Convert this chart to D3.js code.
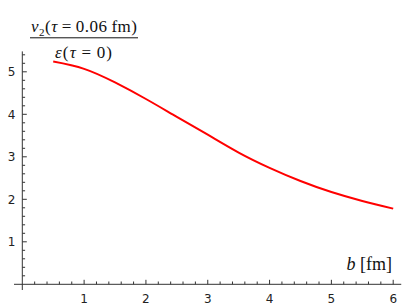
<!DOCTYPE html>
<html><head><meta charset="utf-8">
<script src="https://cdn.jsdelivr.net/npm/d3@7"></script>
<style>body{margin:0;background:#fff}svg{display:block}</style>
</head><body>
<svg id="c" width="409" height="307"></svg>
<script>
const bValues = [0.5, 1.0, 1.5, 2.0, 2.5, 3.0, 3.5, 4.0, 4.5, 5.0, 5.5, 6.0];
const ratioValues = [5.24, 5.07, 4.75, 4.36, 3.94, 3.52, 3.10, 2.74, 2.43, 2.17, 1.96, 1.78];
const xTicks = [1, 2, 3, 4, 5, 6];
const yTicks = [1, 2, 3, 4, 5];

const svg = d3.select("#c");
const x = d3.scaleLinear().domain([0, 6]).range([22.3, 393.2]);
const y = d3.scaleLinear().domain([0, 5]).range([284.3, 71.8]);
const axisColor = "#333";

const xMinor = d3.range(1, 31).map(i => i / 5);
const yMinor = d3.range(1, 28).map(i => i / 5);

svg.append("line").attr("x1", 14).attr("x2", x(6.13)).attr("y1", y(0)).attr("y2", y(0))
  .attr("stroke", axisColor).attr("stroke-width", 1);
svg.append("line").attr("x1", x(0)).attr("x2", x(0)).attr("y1", y(5.48)).attr("y2", 290)
  .attr("stroke", axisColor).attr("stroke-width", 1);

svg.selectAll(".xt").data(xMinor).join("line")
  .attr("x1", d => x(d)).attr("x2", d => x(d))
  .attr("y1", y(0)).attr("y2", d => y(0) - (Math.abs(d - Math.round(d)) < 1e-6 ? 4.5 : 2.8))
  .attr("stroke", axisColor).attr("stroke-width", 1);
svg.selectAll(".yt").data(yMinor).join("line")
  .attr("y1", d => y(d)).attr("y2", d => y(d))
  .attr("x1", x(0)).attr("x2", d => x(0) + (Math.abs(d - Math.round(d)) < 1e-6 ? 4.5 : 2.8))
  .attr("stroke", axisColor).attr("stroke-width", 1);

svg.selectAll(".xl").data(xTicks).join("text")
  .attr("x", d => x(d)).attr("y", 302.5).attr("text-anchor", "middle")
  .attr("font-family", "DejaVu Sans").attr("font-size", 12).attr("fill", "#222").text(d => d);
svg.selectAll(".yl").data(yTicks).join("text")
  .attr("x", 15.5).attr("y", d => y(d) + 4.3).attr("text-anchor", "end")
  .attr("font-family", "DejaVu Sans").attr("font-size", 12).attr("fill", "#222").text(d => d);

const pts = bValues.map((b, i) => [b, ratioValues[i]]);
svg.append("path").datum(pts)
  .attr("d", d3.line().x(d => x(d[0])).y(d => y(d[1])).curve(d3.curveNatural))
  .attr("fill", "none").attr("stroke", "#ff0000").attr("stroke-width", 2);

const serif = "'Liberation Serif', 'Times New Roman', serif";
const num = svg.append("text").attr("x", 31).attr("y", 32)
  .attr("font-family", serif).attr("font-size", 17).attr("fill", "#111");
num.append("tspan").attr("font-style", "italic").text("v");
num.append("tspan").attr("font-size", 11).attr("dy", 3.5).text("2");
num.append("tspan").attr("dy", -3.5).text("(");
num.append("tspan").attr("font-style", "italic").text("τ");
num.append("tspan").text("\u2009=\u20090.06\u2009fm)");
num.attr("textLength", 106).attr("lengthAdjust", "spacing");
svg.append("line").attr("x1", 30).attr("x2", 138).attr("y1", 37.8).attr("y2", 37.8)
  .attr("stroke", "#111").attr("stroke-width", 1);
const den = svg.append("text").attr("x", 55).attr("y", 58)
  .attr("font-family", serif).attr("font-size", 17).attr("fill", "#111");
den.append("tspan").attr("font-style", "italic").text("ε");
den.append("tspan").text("(");
den.append("tspan").attr("font-style", "italic").text("τ");
den.append("tspan").text("\u2009=\u20090)");
den.attr("textLength", 57).attr("lengthAdjust", "spacing");

const xl = svg.append("text").attr("x", 392).attr("y", 270).attr("text-anchor", "end")
  .attr("font-family", serif).attr("font-size", 18).attr("fill", "#111");
xl.append("tspan").attr("font-style", "italic").text("b");
xl.append("tspan").text(" [fm]");
</script>
</body></html>
